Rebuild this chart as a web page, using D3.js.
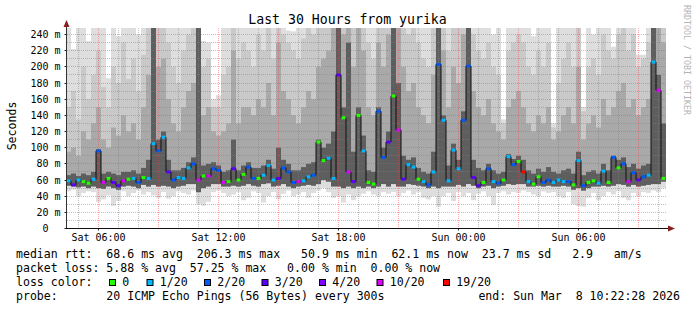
<!DOCTYPE html>
<html>
<head>
<meta charset="utf-8">
<script src="https://cdn.jsdelivr.net/npm/d3@7"></script>
<style>
body { margin: 0; background: #fff; }
text { font-family: "DejaVu Sans Mono", monospace; white-space: pre; }
</style>
</head>
<body>
<svg id="chart" width="697" height="310"></svg>
<script>
// one value per 15 minute slot, 120 slots = 30 hours, values in ms
const median = [
  59,54,60,58,56,61,96,57,62,57,  53,59,61,62,57,63,62,105,96,113,
  70,60,63,62,75,80,60,65,65,74,  72,57,58,74,60,67,76,62,62,66,
  78,60,62,75,70,57,58,59,64,66,  107,84,87,62,190,137,70,58,140,96,
  57,55,145,88,107,164,122,61,79,76,  61,58,54,70,203,134,59,97,74,134,
  201,63,53,57,74,58,56,60,89,79,  83,70,58,55,64,57,60,57,60,58,
  58,54,84,53,57,59,56,71,57,88,  75,80,58,69,60,64,66,206,171,62
];
// index into lossLabels / lossColors
const loss = [
  1,3,1,0,0,1,2,5,0,3,  3,5,0,1,2,0,1,1,2,1,
  3,2,1,1,1,2,5,0,5,2,  2,5,0,3,0,0,2,2,0,1,
  1,1,3,2,2,2,5,1,1,2,  0,0,1,1,3,0,5,3,0,1,
  0,0,2,2,3,0,5,3,1,1,  0,1,2,1,2,1,1,1,1,2,
  2,3,3,0,2,1,2,0,1,2,  0,6,1,0,0,2,2,1,1,1,
  2,0,1,2,0,0,1,1,0,2,  0,2,5,2,3,2,1,1,5,0
];
// smoke: spread of the 20 pings in each slot (250 = above the top)
const pingMax = [
  250,222,250,250,232,250,250,250,186,250,  238,250,250,250,240,250,250,250,250,250,
  250,250,250,250,250,250,250,232,230,160,  165,250,250,250,250,250,250,250,250,250,
  250,250,250,250,245,244,250,250,250,250,  250,250,250,250,250,250,250,250,250,250,
  250,250,250,250,250,250,250,250,250,250,  250,250,250,250,250,250,250,250,250,250,
  250,250,250,250,250,240,250,135,250,250,  250,250,250,238,250,250,250,130,250,250,
  250,250,250,150,250,240,250,250,250,225,  250,250,250,250,215,215,250,250,250,250
];
const pingHigh = [
  150,170,135,200,160,190,220,175,150,200,  180,230,185,210,170,215,250,250,250,250,
  230,200,180,220,240,250,250,200,210,150,  150,190,200,250,210,230,220,200,240,220,
  250,210,250,240,230,220,210,235,250,240,  250,250,250,250,250,250,250,250,250,250,
  230,210,250,250,250,250,250,250,240,250,  230,210,200,250,250,250,220,250,250,250,
  250,240,220,210,230,200,190,130,220,230,  240,230,200,190,220,200,230,125,180,210,
  230,200,250,145,200,210,190,240,220,210,  240,250,220,240,200,210,230,250,250,250
];
const pingMid = [
  95,100,90,120,110,130,150,110,100,125,  115,140,120,130,110,150,190,250,200,210,
  160,130,120,150,170,180,250,140,150,120,  115,120,130,220,130,150,150,140,160,150,
  180,140,230,170,160,140,130,150,170,160,  200,210,220,250,250,240,250,200,250,220,
  150,140,230,200,240,250,250,200,170,180,  150,140,130,190,250,220,150,200,180,240,
  250,170,150,140,160,130,120,110,150,160,  170,150,130,120,140,130,150,110,120,140,
  150,130,200,110,130,140,125,160,140,150,  170,180,150,160,140,150,160,250,250,230
];
const pingCore = [
  66,68,65,68,66,70,98,68,70,68,  66,70,70,72,68,75,85,250,110,120,
  85,72,72,75,82,88,250,78,80,82,  78,70,72,110,72,78,82,75,75,78,
  85,74,100,85,80,72,72,76,80,82,  110,100,105,120,250,150,230,95,150,115,
  72,70,150,100,120,250,180,90,85,88,  75,70,68,95,250,140,78,105,85,145,
  250,85,75,72,80,72,68,70,92,86,  90,85,72,68,74,70,76,70,68,72,
  74,68,95,66,70,72,68,80,72,90,  85,88,76,80,74,78,80,250,190,130
];
const pingLow = [
  53,52,51,52,50,52,50,49,52,50,  48,52,53,52,50,54,52,54,52,53,
  52,50,52,53,55,55,45,50,52,55,  55,52,52,53,52,53,55,53,52,55,
  56,52,53,55,52,50,52,53,54,53,  55,60,58,52,52,50,52,50,52,50,
  52,50,52,55,52,55,52,52,55,54,  53,52,50,52,50,52,52,52,54,52,
  55,53,50,52,53,50,52,53,55,54,  55,55,52,52,53,52,53,52,52,53,
  52,48,50,47,50,52,52,53,52,53,  55,54,52,54,52,53,54,55,55,58
];
const pingMin = [
  46,48,40,44,46,45,33,36,41,28,  34,46,40,44,47,42,45,41,38,45,
  37,40,46,44,42,47,30,28,33,45,  47,44,40,42,45,35,38,46,44,32,
  40,45,36,43,47,40,42,45,38,44,  47,50,45,38,40,32,42,35,40,43,
  46,42,40,45,43,45,40,44,47,42,  45,38,36,40,27,40,44,34,45,40,
  44,35,43,46,40,29,44,46,42,45,  44,47,45,42,40,46,44,45,40,38,
  45,30,28,27,38,44,35,40,45,42,  46,38,35,44,40,45,44,47,45,50
];

const lossLabels = ["0", "1/20", "2/20", "3/20", "4/20", "10/20", "19/20"];
const lossColors = ["#26ff00", "#00b8ff", "#0059ff", "#5e00ff", "#7e00ff", "#dd00ff", "#ff0000"];
const yTicks = [0, 20, 40, 60, 80, 100, 120, 140, 160, 180, 200, 220, 240];

const legendLines = [
  "median rtt:  68.6 ms avg  206.3 ms max   50.9 ms min  62.1 ms now  23.7 ms sd   2.9   am/s",
  "packet loss: 5.88 % avg  57.25 % max   0.00 % min  0.00 % now",
  "loss color:",
  "probe:       20 ICMP Echo Pings (56 Bytes) every 300s"
];

const svg = d3.select("#chart");
svg.append("rect").attr("width", 697).attr("height", 310).attr("fill", "#fff");

const end = new Date(Date.UTC(2026, 2, 8, 10, 22, 28));
const start = d3.utcHour.offset(end, -30);
const x = d3.scaleUtc().domain([start, end]).range([66, 666]);
const y = d3.scaleLinear().domain([0, 247.5]).range([228.5, 28.5]);
const crisp = v => Math.round(v - 0.5) + 0.5;

const slots = median.map((m, i) => ({
  i: i,
  x0: x(d3.utcMinute.offset(start, 15 * i)),
  x1: x(d3.utcMinute.offset(start, 15 * (i + 1)))
}));

svg.append("clipPath").attr("id", "plotclip")
  .append("rect").attr("x", 67).attr("y", 28).attr("width", 600).attr("height", 200.5);

// smoke, lightest band first
const bands = [
  [pingMin, pingMax, "#dedede"],
  [pingLow, pingHigh, "#c9c9c9"],
  [pingLow, pingMid, "#a9a9a9"],
  [pingLow, pingCore, "#5e5e5e"]
];
const smoke = svg.append("g").attr("clip-path", "url(#plotclip)");
bands.forEach(([lo, hi, col]) => {
  smoke.append("g").selectAll("rect").data(slots).join("rect")
    .attr("x", d => d.x0)
    .attr("width", d => d.x1 - d.x0)
    .attr("y", d => y(hi[d.i]))
    .attr("height", d => y(lo[d.i]) - y(hi[d.i]))
    .attr("fill", col);
});

// grid
const grid = svg.append("g").attr("fill", "none").attr("stroke-dasharray", "1,1");
d3.range(10, 250, 10).forEach(v => {
  grid.append("line")
    .attr("x1", 67).attr("x2", 667)
    .attr("y1", crisp(y(v))).attr("y2", crisp(y(v)))
    .attr("stroke", v % 20 === 0 ? "rgba(255,60,60,0.45)" : "rgba(130,130,130,0.5)");
});
d3.utcHour.every(1).range(start, end).forEach(t => {
  const major = t.getUTCHours() % 3 === 0;
  grid.append("line")
    .attr("x1", crisp(x(t))).attr("x2", crisp(x(t)))
    .attr("y1", 28).attr("y2", 228)
    .attr("stroke", major ? "rgba(255,60,60,0.45)" : "rgba(130,130,130,0.5)");
});

// median line and loss coloured marks
const medPts = slots.map(d => [d.x0, median[d.i]]);
medPts.push([slots[slots.length - 1].x1, median[median.length - 1]]);
svg.append("path")
  .attr("clip-path", "url(#plotclip)")
  .attr("d", d3.line().x(d => d[0]).y(d => y(d[1])).curve(d3.curveStepAfter)(medPts))
  .attr("fill", "none").attr("stroke", "#111").attr("stroke-width", 1);
svg.append("g").selectAll("rect").data(slots).join("rect")
  .attr("x", d => d.x0 + 0.5)
  .attr("width", 4)
  .attr("y", d => y(median[d.i]) - 1.5)
  .attr("height", 3)
  .attr("fill", d => lossColors[loss[d.i]]);

// axes
const yAxis = svg.append("g").attr("transform", "translate(66.5,0)")
  .call(d3.axisLeft(y).tickValues(yTicks).tickSize(2).tickPadding(4)
    .tickFormat(v => v === 0 ? "0" : v + " m"));
yAxis.select(".domain").remove();
yAxis.selectAll("text").attr("font-family", "DejaVu Sans Mono").attr("font-size", "10px").attr("fill", "#000")
  .filter(v => v === 0).attr("x", -18);
yAxis.selectAll(".tick line").attr("stroke", "#222");
yAxis.selectAll(".tick").attr("transform", v => `translate(0,${crisp(y(v))})`);

const xAxis = svg.append("g").attr("transform", "translate(0,228.5)")
  .call(d3.axisBottom(x).tickValues(d3.utcHour.every(6).range(start, end))
    .tickSize(2).tickPadding(3.5).tickFormat(d3.utcFormat("%a %H:%M")));
xAxis.select(".domain").remove();
xAxis.selectAll("text").attr("font-family", "DejaVu Sans Mono").attr("font-size", "10px").attr("fill", "#000");
xAxis.selectAll(".tick line").attr("stroke", "#222");
xAxis.selectAll(".tick").attr("transform", t => `translate(${crisp(x(t))},0)`);

svg.append("line").attr("x1", 66.5).attr("x2", 66.5).attr("y1", 229).attr("y2", 25)
  .attr("stroke", "#333");
svg.append("line").attr("x1", 66).attr("x2", 670).attr("y1", 228.5).attr("y2", 228.5)
  .attr("stroke", "#111");
svg.append("path").attr("d", "M63.5,27 L69.5,27 L66.5,20 Z").attr("fill", "#8b1e1e");
svg.append("path").attr("d", "M668,225.5 L668,231.5 L675,228.5 Z").attr("fill", "#8b1e1e");

// titles
svg.append("text").attr("x", 347.5).attr("y", 24).attr("text-anchor", "middle")
  .attr("font-size", "13.2px").text("Last 30 Hours from yurika");
svg.append("text").attr("transform", "translate(16,126) rotate(-90)").attr("text-anchor", "middle")
  .attr("font-size", "11.56px").text("Seconds");
svg.append("text").attr("transform", "translate(683.5,5) rotate(90)")
  .attr("font-size", "8.3px").attr("fill", "#b4b4b4").text("RRDTOOL / TOBI OETIKER");

// legend
const legendY = [258, 272, 286, 300];
legendLines.forEach((s, k) => {
  svg.append("text").attr("x", 16).attr("y", legendY[k]).attr("font-size", "11.56px").text(s);
});
svg.append("text").attr("x", 680).attr("y", 300).attr("text-anchor", "end")
  .attr("font-size", "11.56px").text("end: Sun Mar  8 10:22:28 2026");

const boxX = [109, 146.5, 204, 261.5, 319, 376.5, 443];
const lg = svg.append("g").selectAll("g").data(lossLabels).join("g")
  .attr("transform", (d, i) => `translate(${boxX[i]},0)`);
lg.append("rect").attr("x", 0.5).attr("y", 279.5).attr("width", 6).attr("height", 6)
  .attr("fill", (d, i) => lossColors[i]).attr("stroke", "#000");
lg.append("text").attr("x", 13.3).attr("y", 286).attr("font-size", "11.56px").text(d => d);
</script>
</body>
</html>
